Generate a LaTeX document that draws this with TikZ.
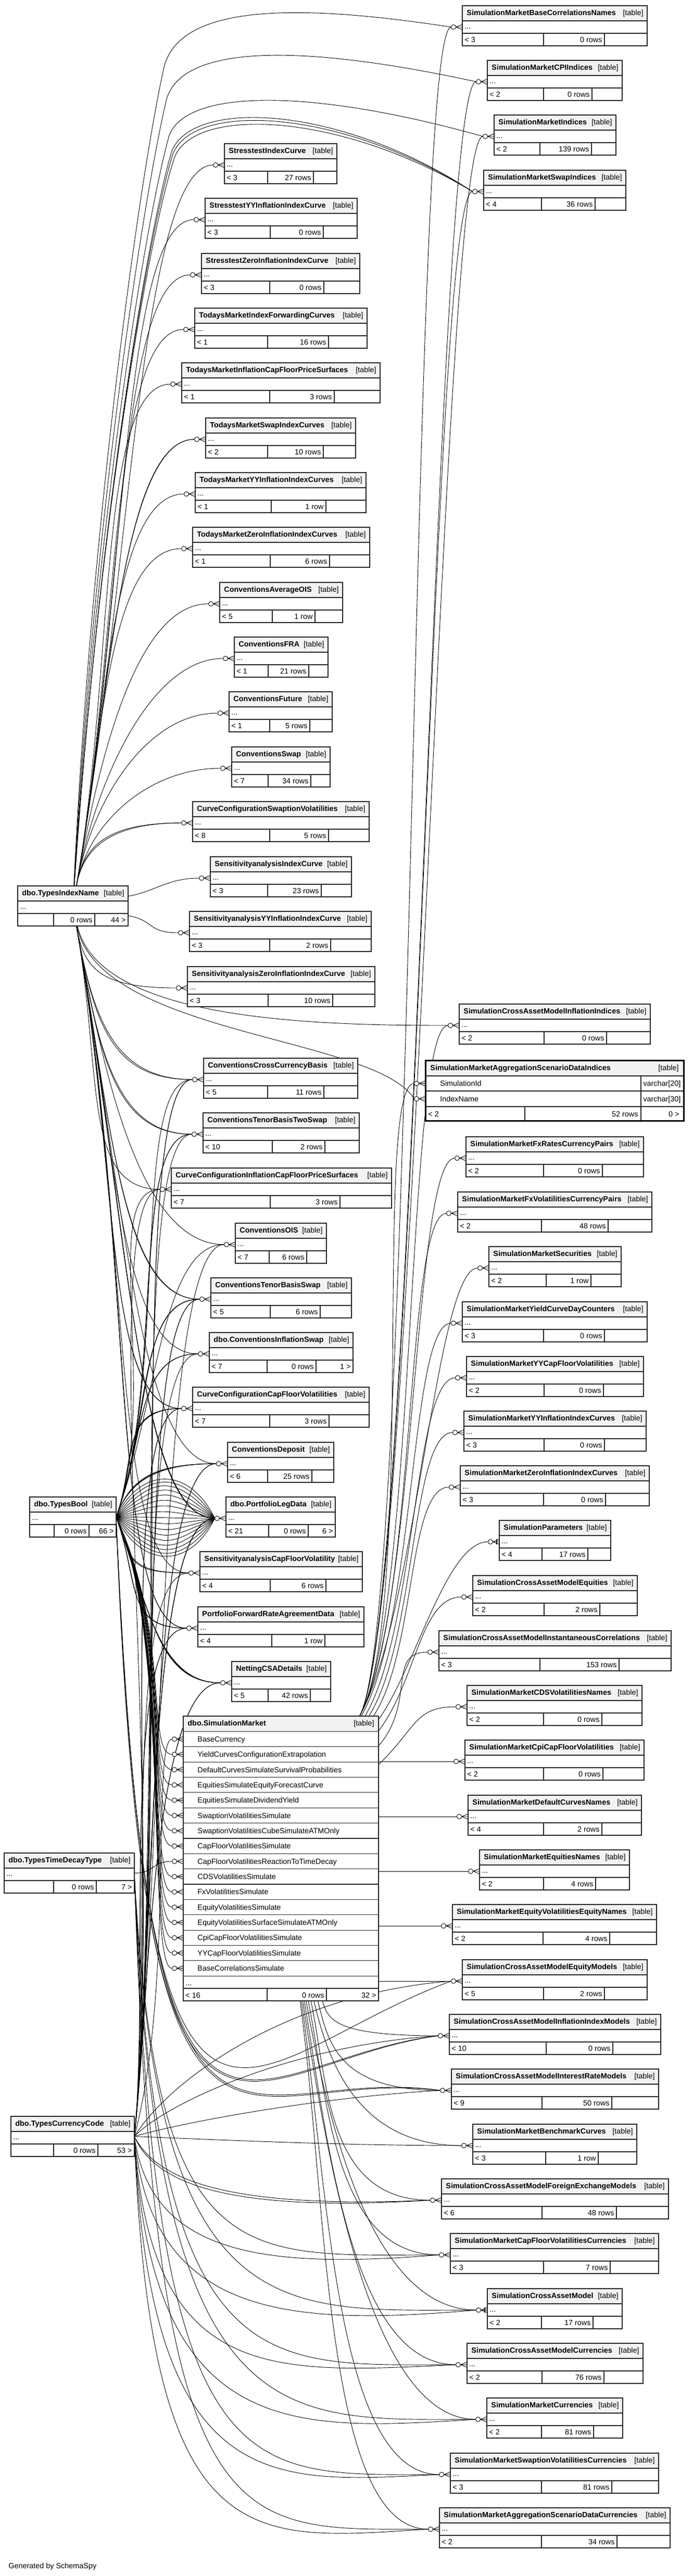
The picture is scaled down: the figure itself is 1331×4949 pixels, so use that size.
\documentclass[tikz,border=0pt]{standalone}
\usepackage{fontspec}
\setmainfont{Liberation Sans}
\usetikzlibrary{backgrounds}

\tikzset{
  tblline/.style={line width=0.6pt, draw=black!85},
  headfill/.style={fill=black!5},
  fk/.style={line width=0.45pt, draw=black},
  txt/.style={inner sep=0pt, font=\fontsize{7.2}{8}\selectfont},
  tblbox/.style={inner sep=0pt, outer sep=0pt, minimum height=38.5pt},
}

% crow's foot with ring, drawn left of a table row
\newcommand\crow[1]{%
  \draw[fk, shift={(#1)}] (9,0) -- (21.5,5) (9,0) -- (21.5,0) (9,0) -- (21.5,-5);
  \draw[fk, fill=white, shift={(#1)}] (4.5,0) circle (2.25pt);
}

% child table: name, x0, y0, x1, split1, split2, title, parents, rows
\newcommand\tbl[9]{%
  \node[tblbox, minimum width={(#4-#2)*0.5pt}, anchor=north west] (#1) at (#2,-#3) {};
  \fill[white] (#2,-#3) rectangle (#4,-#3-77);
  \fill[headfill] (#2,-#3) rectangle (#4,-#3-29);
  \draw[tblline] (#2,-#3) rectangle (#4,-#3-77)
    (#2,-#3-29) -- (#4,-#3-29) (#2,-#3-53) -- (#4,-#3-53)
    (#5,-#3-53) -- (#5,-#3-77) (#6,-#3-53) -- (#6,-#3-77);
  \node[txt, anchor=base west] at (#2+8,-#3-18) {\bfseries #7};
  \node[txt, anchor=base east] at (#4-7,-#3-18) {[table]};
  \node[txt, anchor=base west] at (#2+4,-#3-44) {...};
  \node[txt, anchor=base west] at (#2+4,-#3-70) {#8};
  \node[txt, anchor=base east] at (#6-4,-#3-70) {#9};
  \coordinate (#1-in) at (#2-21.5,-#3-41);
  \coordinate (#1-r) at (#4-4,-#3-70);
  \crow{#1-in}
}

% parent table: name, x0, y0, x1, split1, split2, title, rows, children
\newcommand\ptbl[9]{%
  \node[tblbox, minimum width={(#4-#2)*0.5pt}, anchor=north west] (#1) at (#2,-#3) {};
  \fill[white] (#2,-#3) rectangle (#4,-#3-77);
  \fill[headfill] (#2,-#3) rectangle (#4,-#3-29);
  \draw[tblline] (#2,-#3) rectangle (#4,-#3-77)
    (#2,-#3-29) -- (#4,-#3-29) (#2,-#3-53) -- (#4,-#3-53)
    (#5,-#3-53) -- (#5,-#3-77) (#6,-#3-53) -- (#6,-#3-77);
  \node[txt, anchor=base west] at (#2+8,-#3-18) {\bfseries #7};
  \node[txt, anchor=base east] at (#4-7,-#3-18) {[table]};
  \node[txt, anchor=base west] at (#2+4,-#3-44) {...};
  \node[txt, anchor=base east] at (#6-4,-#3-70) {#8};
  \node[txt, anchor=base east] at (#4-4,-#3-70) {#9};
}

\begin{document}
\begin{tikzpicture}[x=0.5pt, y=0.5pt]
  \useasboundingbox (0,0) rectangle (1331,-4949);

  % lookup tables on the left
  \ptbl{tIdx}{34}{1702}{246}{103}{182}{dbo.TypesIndexName}{0 rows}{44 >}
  \ptbl{tBool}{57}{2876}{223}{104}{171}{dbo.TypesBool}{0 rows}{66 >}
  \ptbl{tDecay}{8}{3560}{258}{103}{185}{dbo.TypesTimeDecayType}{0 rows}{7 >}
  \ptbl{tCcy}{21}{4066}{258}{103}{188}{dbo.TypesCurrencyCode}{0 rows}{53 >}

  % middle column, upper part
  \tbl{stIdx}{431}{276}{647}{514}{602}{StresstestIndexCurve}{< 3}{27 rows}
  \tbl{stYY}{394}{381}{686}{519}{621}{StresstestYYInflationIndexCurve}{< 3}{0 rows}
  \tbl{stZero}{387}{487}{691}{518}{622}{StresstestZeroInflationIndexCurve}{< 3}{0 rows}
  \tbl{tmFwd}{374}{592}{705}{514}{631}{TodaysMarketIndexForwardingCurves}{< 1}{16 rows}
  \tbl{tmInflCF}{349}{697}{730}{518}{642}{TodaysMarketInflationCapFloorPriceSurfaces}{< 1}{3 rows}
  \tbl{tmSwap}{395}{803}{683}{514}{621}{TodaysMarketSwapIndexCurves}{< 2}{10 rows}
  \tbl{tmYY}{375}{908}{703}{521}{626}{TodaysMarketYYInflationIndexCurves}{< 1}{1 row}
  \tbl{tmZero}{370}{1013}{710}{519}{633}{TodaysMarketZeroInflationIndexCurves}{< 1}{6 rows}
  \tbl{cvAvgOIS}{422}{1119}{658}{523}{605}{ConventionsAverageOIS}{< 5}{1 row}
  \tbl{cvFRA}{450}{1224}{630}{515}{593}{ConventionsFRA}{< 1}{21 rows}
  \tbl{cvFuture}{440}{1329}{638}{518}{595}{ConventionsFuture}{< 1}{5 rows}
  \tbl{cvSwap}{445}{1435}{634}{515}{597}{ConventionsSwap}{< 7}{34 rows}
  \tbl{ccSwptVol}{370}{1540}{709}{518}{631}{CurveConfigurationSwaptionVolatilities}{< 8}{5 rows}
  \tbl{saIdx}{404}{1646}{675}{514}{617}{SensitivityanalysisIndexCurve}{< 3}{23 rows}
  \tbl{saYY}{364}{1751}{713}{518}{635}{SensitivityanalysisYYInflationIndexCurve}{< 3}{2 rows}
  \tbl{saZero}{360}{1857}{720}{515}{639}{SensitivityanalysisZeroInflationIndexCurve}{< 3}{10 rows}

  % middle column, lower part
  \tbl{cvCCB}{391}{2033}{687}{514}{622}{ConventionsCrossCurrencyBasis}{< 5}{11 rows}
  \tbl{cvTB2}{390}{2138}{690}{523}{624}{ConventionsTenorBasisTwoSwap}{< 10}{2 rows}
  \tbl{ccInflCF}{329}{2244}{752}{519}{653}{CurveConfigurationInflationCapFloorPriceSurfaces}{< 7}{3 rows}
  \tbl{cvOIS}{452}{2350}{627}{517}{589}{ConventionsOIS}{< 7}{6 rows}
  \tbl{cvTBS}{405}{2455}{675}{519}{615}{ConventionsTenorBasisSwap}{< 5}{6 rows}
  \tbl{cvInflSwap}{402}{2560}{678}{513}{607}{dbo.ConventionsInflationSwap}{< 7}{0 rows}
  \node[txt, anchor=base east] at (cvInflSwap-r) {1 >};
  \tbl{ccCFVol}{370}{2665}{709}{518}{632}{CurveConfigurationCapFloorVolatilities}{< 7}{3 rows}
  \tbl{cvDeposit}{437}{2771}{641}{514}{599}{ConventionsDeposit}{< 6}{25 rows}
  \tbl{pLeg}{434}{2876}{644}{516}{592}{dbo.PortfolioLegData}{< 21}{0 rows}
  \node[txt, anchor=base east] at (pLeg-r) {6 >};
  \tbl{saCFVol}{384}{2981}{696}{519}{626}{SensitivityanalysisCapFloorVolatility}{< 4}{6 rows}
  \tbl{pFRA}{380}{3087}{699}{522}{624}{PortfolioForwardRateAgreementData}{< 4}{1 row}
  \tbl{csa}{445}{3192}{635}{515}{596}{NettingCSADetails}{< 5}{42 rows}

  % dbo.SimulationMarket with its columns
  \node[tblbox, minimum width=187.5pt, minimum height=273.5pt, anchor=north west] (simMkt) at (352,-3297) {};
  \fill[white] (352,-3297) rectangle (727,-3844);
  \fill[headfill] (352,-3297) rectangle (727,-3326.4);
  \draw[tblline] (352,-3297) rectangle (727,-3844);
  \foreach \k in {0,...,16}
    \draw[tblline] (352,{-3326.4-29.36*\k}) -- (727,{-3326.4-29.36*\k});
  \draw[tblline] (352,-3820) -- (727,-3820) (513,-3820) -- (513,-3844) (627,-3820) -- (627,-3844);
  \node[txt, anchor=base west] at (360,-3315) {\bfseries dbo.SimulationMarket};
  \node[txt, anchor=base east] at (719,-3315) {[table]};
  \foreach \col [count=\k] in {BaseCurrency, YieldCurvesConfigurationExtrapolation,
      DefaultCurvesSimulateSurvivalProbabilities, EquitiesSimulateEquityForecastCurve,
      EquitiesSimulateDividendYield, SwaptionVolatilitiesSimulate,
      SwaptionVolatilitiesCubeSimulateATMOnly, CapFloorVolatilitiesSimulate,
      CapFloorVolatilitiesReactionToTimeDecay, CDSVolatilitiesSimulate,
      FxVolatilitiesSimulate, EquityVolatilitiesSimulate,
      EquityVolatilitiesSurfaceSimulateATMOnly, CpiCapFloorVolatilitiesSimulate,
      YYCapFloorVolatilitiesSimulate, BaseCorrelationsSimulate} {
    \node[txt, anchor=base west] at (379,{-3326.4-29.36*\k+9.5}) {\col};
    \coordinate (smr\k) at (330.5,{-3326.4-29.36*(\k-0.5)});
    \crow{smr\k}
  }
  \node[txt, anchor=base west] at (356,-3814) {...};
  \node[txt, anchor=base west] at (356,-3838) {< 16};
  \node[txt, anchor=base east] at (623,-3838) {0 rows};
  \node[txt, anchor=base east] at (723,-3838) {32 >};

  % right column
  \tbl{smBaseCorr}{888}{11}{1243}{1044}{1161}{SimulationMarketBaseCorrelationsNames}{< 3}{0 rows}
  \tbl{smCPI}{936}{116}{1195}{1044}{1137}{SimulationMarketCPIIndices}{< 2}{0 rows}
  \tbl{smIdx}{949}{221}{1183}{1037}{1136}{SimulationMarketIndices}{< 2}{139 rows}
  \tbl{smSwapIdx}{929}{327}{1202}{1040}{1143}{SimulationMarketSwapIndices}{< 4}{36 rows}
  \tbl{scmInflIdx}{882}{1929}{1249}{1045}{1165}{SimulationCrossAssetModelInflationIndices}{< 2}{0 rows}

  % aggregation table with its key columns
  \node[tblbox, minimum width=248pt, minimum height=58pt, anchor=north west] (smAgg) at (817,-2037) {};
  \fill[white] (817,-2037) rectangle (1313,-2153);
  \fill[headfill] (817,-2037) rectangle (1313,-2067);
  \draw[tblline] (817,-2067) -- (1313,-2067) (817,-2096) -- (1313,-2096) (817,-2126) -- (1313,-2126)
    (1231,-2067) -- (1231,-2153) (1008,-2126) -- (1008,-2153);
  \draw[line width=1.5pt] (817,-2037) rectangle (1313,-2153);
  \node[txt, anchor=base west] at (826,-2056) {\bfseries SimulationMarketAggregationScenarioDataIndices};
  \node[txt, anchor=base east] at (1304,-2056) {[table]};
  \node[txt, anchor=base west] at (845,-2086) {SimulationId};
  \node[txt, anchor=base west] at (1235,-2086) {varchar[20]};
  \node[txt, anchor=base west] at (845,-2116) {IndexName};
  \node[txt, anchor=base west] at (1235,-2116) {varchar[30]};
  \node[txt, anchor=base west] at (822,-2145) {< 2};
  \node[txt, anchor=base east] at (1226,-2145) {52 rows};
  \node[txt, anchor=base east] at (1305,-2145) {0 >};
  \coordinate (aggSim-in) at (795.5,-2081.5);
  \coordinate (aggIdx-in) at (795.5,-2111);
  \crow{aggSim-in}
  \crow{aggIdx-in}

  \tbl{smFxRates}{895}{2184}{1236}{1044}{1157}{SimulationMarketFxRatesCurrencyPairs}{< 2}{0 rows}
  \tbl{smFxVol}{879}{2290}{1252}{1040}{1168}{SimulationMarketFxVolatilitiesCurrencyPairs}{< 2}{48 rows}
  \tbl{smSec}{939}{2395}{1193}{1049}{1135}{SimulationMarketSecurities}{< 2}{1 row}
  \tbl{smYCDC}{888}{2501}{1243}{1044}{1161}{SimulationMarketYieldCurveDayCounters}{< 3}{0 rows}
  \tbl{smYYCF}{896}{2606}{1236}{1045}{1159}{SimulationMarketYYCapFloorVolatilities}{< 2}{0 rows}
  \tbl{smYYIdx}{891}{2711}{1241}{1045}{1161}{SimulationMarketYYInflationIndexCurves}{< 3}{0 rows}
  \tbl{smZeroIdx}{884}{2816}{1247}{1044}{1163}{SimulationMarketZeroInflationIndexCurves}{< 3}{0 rows}
  \tbl{simPar}{959}{2921}{1173}{1041}{1129}{SimulationParameters}{< 4}{17 rows}
  \tbl{scmEq}{908}{3027}{1224}{1045}{1152}{SimulationCrossAssetModelEquities}{< 2}{2 rows}
  \tbl{scmCorr}{843}{3133}{1289}{1037}{1189}{SimulationCrossAssetModelInstantaneousCorrelations}{< 3}{153 rows}
  \tbl{smCDS}{897}{3238}{1233}{1044}{1156}{SimulationMarketCDSVolatilitiesNames}{< 2}{0 rows}
  \tbl{smCpi}{893}{3343}{1237}{1044}{1158}{SimulationMarketCpiCapFloorVolatilities}{< 2}{0 rows}
  \tbl{smDef}{899}{3449}{1232}{1044}{1156}{SimulationMarketDefaultCurvesNames}{< 4}{2 rows}
  \tbl{smEqN}{921}{3554}{1209}{1044}{1144}{SimulationMarketEquitiesNames}{< 2}{4 rows}
  \tbl{smEqVol}{869}{3659}{1261}{1043}{1171}{SimulationMarketEquityVolatilitiesEquityNames}{< 2}{4 rows}
  \tbl{scmEqM}{888}{3765}{1243}{1044}{1161}{SimulationCrossAssetModelEquityModels}{< 5}{2 rows}
  \tbl{scmInflM}{863}{3870}{1269}{1049}{1177}{SimulationCrossAssetModelInflationIndexModels}{< 10}{0 rows}
  \tbl{scmIRM}{867}{3975}{1265}{1041}{1175}{SimulationCrossAssetModelInterestRateModels}{< 9}{50 rows}
  \tbl{smBench}{908}{4081}{1223}{1048}{1149}{SimulationMarketBenchmarkCurves}{< 3}{1 row}
  \tbl{scmFXM}{848}{4186}{1284}{1041}{1184}{SimulationCrossAssetModelForeignExchangeModels}{< 6}{48 rows}
  \tbl{smCFCcy}{865}{4291}{1265}{1044}{1172}{SimulationMarketCapFloorVolatilitiesCurrencies}{< 3}{7 rows}
  \tbl{scm}{936}{4397}{1195}{1040}{1139}{SimulationCrossAssetModel}{< 2}{17 rows}
  \tbl{scmCcy}{897}{4502}{1235}{1041}{1160}{SimulationCrossAssetModelCurrencies}{< 2}{76 rows}
  \tbl{smCcy}{935}{4607}{1196}{1040}{1140}{SimulationMarketCurrencies}{< 2}{81 rows}
  \tbl{smSwptCcy}{865}{4713}{1265}{1040}{1175}{SimulationMarketSwaptionVolatilitiesCurrencies}{< 3}{81 rows}
  \tbl{smAggCcy}{844}{4818}{1287}{1040}{1185}{SimulationMarketAggregationScenarioDataCurrencies}{< 2}{34 rows}

  % one-to-one ends
  \draw[fk, line width=1pt, shift={(simPar-in)}] (16,-5) -- (16,5);
  \draw[fk, line width=1pt, shift={(scm-in)}] (16,-5) -- (16,5);

  \node[txt, anchor=base west] at (16,-4934) {Generated by SchemaSpy};

  \begin{scope}[on background layer]
    % index names, upwards
    \foreach \c/\a in {stIdx/640, stYY/600, stZero/555, tmFwd/510, tmInflCF/465,
        tmSwap/420, tmSwap/400, tmYY/375, tmZero/330, cvAvgOIS/285, cvFRA/240,
        cvFuture/200, cvSwap/160, ccSwptVol/120, ccSwptVol/110}
      \draw[fk] (tIdx) .. controls +(80:\a) and +(180:140) .. (\c-in);
    \draw[fk] (tIdx) .. controls +(10:160) and +(180:60) .. (saIdx-in);
    \draw[fk] (tIdx) .. controls +(-10:160) and +(180:60) .. (saYY-in);
    % index names, downwards
    \foreach \c/\a in {saZero/120, cvCCB/220, cvCCB/240, cvTB2/270, cvTB2/290,
        ccInflCF/330, cvOIS/380, cvTBS/420, cvTBS/440, cvInflSwap/470, ccCFVol/510,
        ccCFVol/530, cvDeposit/560, pLeg/600, pLeg/620, pLeg/640, saCFVol/650,
        pFRA/690, pFRA/710}
      \draw[fk] (tIdx) .. controls +(-80:\a) and +(180:150) .. (\c-in);
    % index names, right column
    \draw[fk] (tIdx) .. controls (175,-1000) and (270,-330) .. (315,-129)
      .. controls (345,-10) and (560,-5) .. (smBaseCorr-in);
    \draw[fk] (tIdx) .. controls (180,-1000) and (275,-380) .. (320,-190)
      .. controls (350,-90) and (560,-80) .. (smCPI-in);
    \draw[fk] (tIdx) .. controls (185,-1000) and (280,-420) .. (325,-260)
      .. controls (360,-170) and (600,-170) .. (smIdx-in);
    \foreach \d in {0,6,14}
      \draw[fk] (tIdx) .. controls (190,-1000) and (285,-440-\d) .. (330+\d/3,-290-\d)
        .. controls (370,-190-\d) and (650,-200-\d) .. (smSwapIdx-in);
    \draw[fk] (tIdx) .. controls (190,-1960) and (600,-1970) .. (scmInflIdx-in);
    \draw[fk] (tIdx) .. controls (190,-1990) and (720,-1990) .. (aggIdx-in);

    % simulation market to its children
    \foreach \c/\h in {smBaseCorr/3100, smCPI/3100, smIdx/3100, smSwapIdx/3100,
        scmInflIdx/3100, aggSim/3100, smFxRates/3100, smFxVol/3100, smSec/3100,
        smYCDC/3110, smYYCF/3130, smYYIdx/3150, smZeroIdx/3170, simPar/3200,
        scmEq/3230, scmCorr/3270, smCDS/3320}
      \draw[fk] (simMkt) .. controls (800,-\h) and +(180:80) .. (\c-in);
    \foreach \c in {smCpi, smDef, smEqN, smEqVol, scmEqM}
      \draw[fk] (simMkt.east |- \c-in) .. controls +(0:60) and +(180:60) .. (\c-in);
    \foreach \c/\h in {scmInflM/3880, scmIRM/3920, smBench/3960, scmFXM/4000,
        smCFCcy/4040, scm/4080, scmCcy/4120, smCcy/4160, smSwptCcy/4200, smAggCcy/4240}
      \draw[fk] (simMkt) .. controls (630,-\h) and +(180:200) .. (\c-in);

    % booleans
    \foreach \t in {-64,-56,...,64}
      \draw[fk] (tBool.east) .. controls +(\t:110) and +(180-\t:110) .. (pLeg-in);
    \foreach \c/\a in {cvCCB/300, cvTB2/280, cvTB2/270, ccInflCF/250, cvOIS/230,
        cvTBS/210, cvTBS/200, cvTBS/190, cvInflSwap/170, cvInflSwap/160,
        ccCFVol/130, ccCFVol/120, ccCFVol/110, cvDeposit/80, cvDeposit/75, cvDeposit/70}
      \draw[fk] (tBool.east) .. controls +(70:\a) and +(180:120) .. (\c-in);
    \foreach \c/\a in {saCFVol/80, saCFVol/90, pFRA/130, pFRA/140, csa/170,
        csa/180, csa/190, csa/200}
      \draw[fk] (tBool.east) .. controls +(-70:\a) and +(180:120) .. (\c-in);
    \foreach \k in {2,...,8,10,11,...,16}
      \draw[fk] (tBool.east) .. controls +(-65:250) and +(180:50) .. (smr\k);
    \foreach \c/\a in {scmEqM/0, scmInflM/0, scmInflM/6, scmIRM/0, scmIRM/6}
      \draw[fk] (tBool.east) .. controls (285-\a,-4350) and (450,-3960-\a) .. (\c-in);

    % time decay
    \draw[fk] (tDecay.east) .. controls +(0:40) and +(180:40) .. (smr9);
    \foreach \c/\h in {smCFCcy/4372, scm/4478, scmCcy/4583, smCcy/4688,
        smSwptCcy/4794, smAggCcy/4899}
      \draw[fk] (tDecay.east) .. controls (300,-\h) and +(180:380) .. (\c-in);

    % currency codes, upwards
    \draw[fk] (tCcy.east) .. controls +(75:300) and +(180:40) .. (smr1);
    \foreach \c/\a in {cvCCB/700, cvCCB/690, cvTB2/650, ccInflCF/620, cvOIS/580,
        cvTBS/540, cvTBS/530, cvInflSwap/500, ccCFVol/460, ccCFVol/450,
        cvDeposit/420, cvDeposit/410, pLeg/380, pLeg/370, pLeg/360, saCFVol/340,
        pFRA/300, pFRA/290, csa/260, csa/250}
      \draw[fk] (tCcy.east) .. controls +(84:\a) and +(180:130) .. (\c-in);
    % currency codes, right column
    \draw[fk] (tCcy.east) .. controls (330,-3990) and (560,-3830) .. (scmEqM-in);
    \draw[fk] (tCcy.east) .. controls (320,-4040) and (560,-3930) .. (scmInflM-in);
    \draw[fk] (tCcy.east) .. controls (340,-4080) and (600,-4030) .. (scmIRM-in);
    \draw[fk] (tCcy.east) .. controls (400,-4110) and (650,-4122) .. (smBench-in);
    \draw[fk] (tCcy.east) .. controls (300,-4200) and (450,-4250) .. (scmFXM-in);
    \draw[fk] (tCcy.east) .. controls (305,-4195) and (455,-4243) .. (scmFXM-in);
    \draw[fk] (tCcy.east) .. controls (290,-4330) and (500,-4360) .. (smCFCcy-in);
    \draw[fk] (tCcy.east) .. controls (290,-4450) and (550,-4470) .. (scm-in);
    \draw[fk] (tCcy.east) .. controls (290,-4580) and (520,-4560) .. (scmCcy-in);
    \draw[fk] (tCcy.east) .. controls (290,-4690) and (560,-4670) .. (smCcy-in);
    \draw[fk] (tCcy.east) .. controls (290,-4800) and (520,-4770) .. (smSwptCcy-in);
    \draw[fk] (tCcy.east) .. controls (290,-4920) and (480,-4880) .. (smAggCcy-in);
  \end{scope}
\end{tikzpicture}
\end{document}
